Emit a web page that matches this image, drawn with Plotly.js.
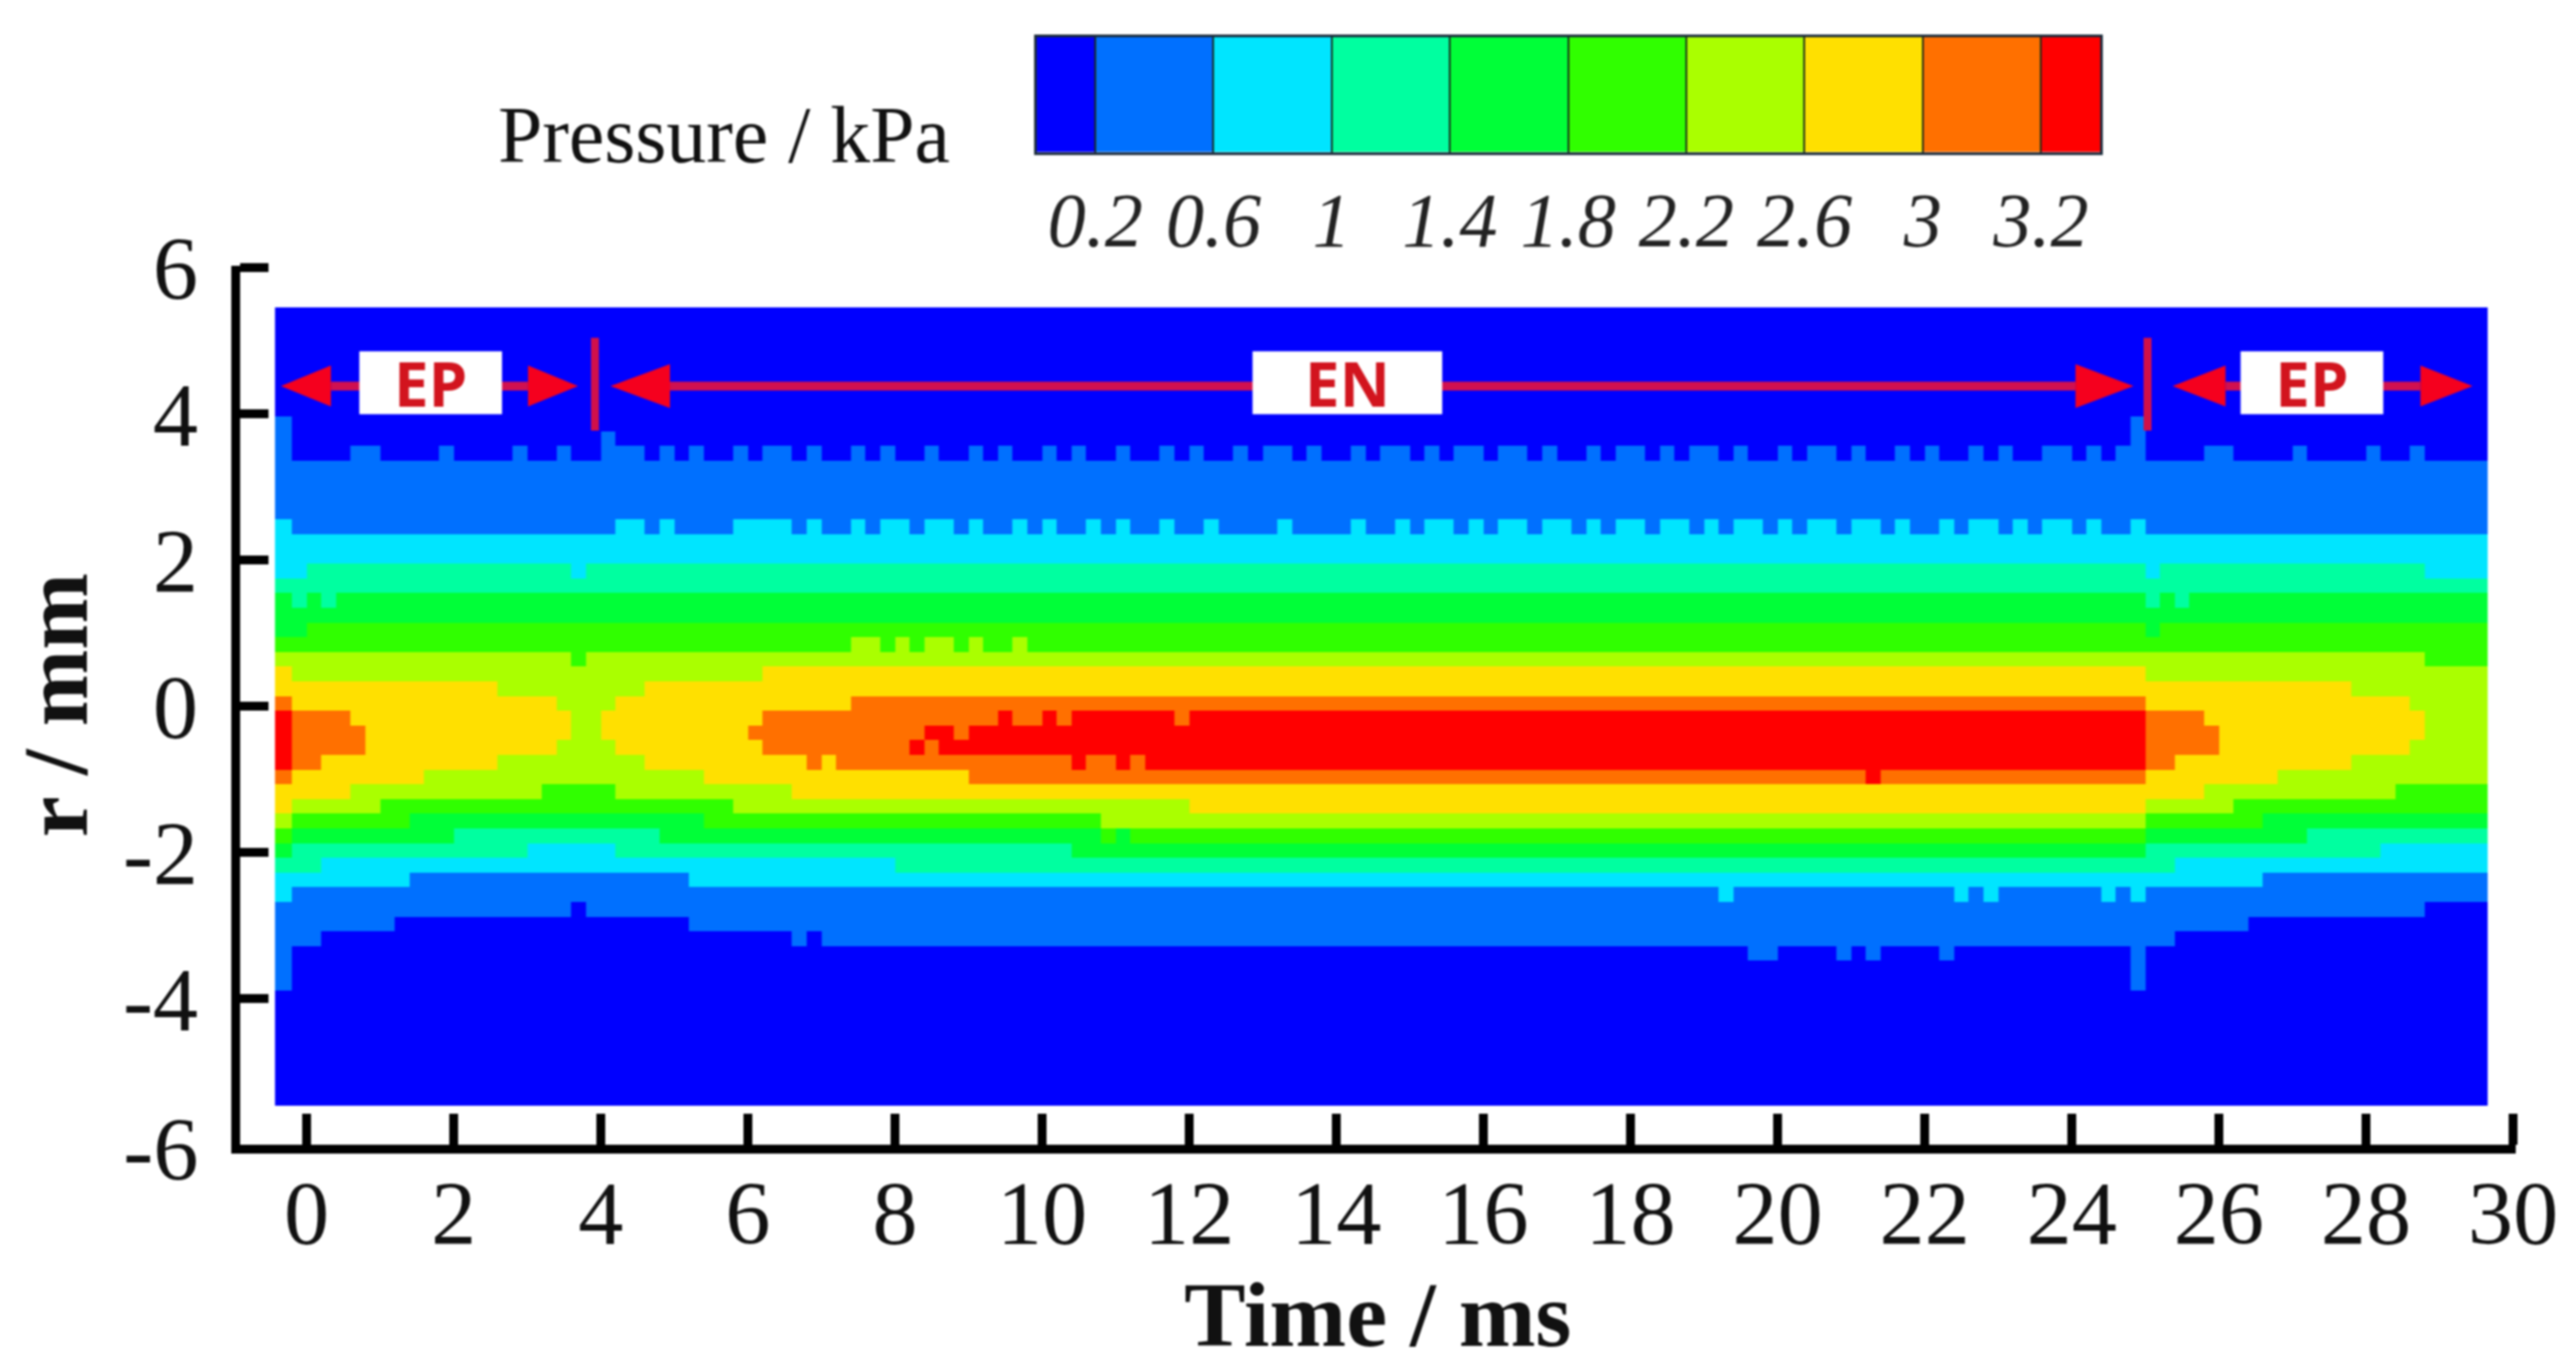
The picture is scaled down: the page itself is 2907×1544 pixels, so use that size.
<!DOCTYPE html>
<html><head><meta charset="utf-8">
<script src="https://cdn.plot.ly/plotly-3.0.1.min.js"></script>
<style>html,body{margin:0;padding:0;background:#fff}#plot{width:2907px;height:1544px;filter:blur(1px)}</style>
</head><body><div id="plot"></div>
<script>
// Pressure bands (kPa): edges, colours and a representative value for each band
const bandEdges = [0, 0.2, 0.6, 1, 1.4, 1.8, 2.2, 2.6, 3, 3.2, 3.4];
const bandColors = ['#0000ff','#0070ff','#00e5ff','#00ffa0','#00ff38','#30ff00','#aaff00','#ffe000','#ff7000','#ff0000'];
const bandValues = [0.1, 0.4, 0.8, 1.2, 1.6, 2.0, 2.4, 2.8, 3.1, 3.3];

// Legend strip
const legendEdges = [0, 0.2, 0.6, 1, 1.4, 1.8, 2.2, 2.6, 3, 3.4, 3.6];
const legendTickVals = [0.2, 0.6, 1, 1.4, 1.8, 2.2, 2.6, 3, 3.4];
const legendTickText = ['0.2','0.6','1','1.4','1.8','2.2','2.6','3','3.2'];

// Axis ticks
const timeTicks = [0,2,4,6,8,10,12,14,16,18,20,22,24,26,28,30];
const radiusTicks = [-4,-2,0,2,4,6];
const radiusTickText = ['-4','-2','0','2','4','6'];

// Time cells are 0.2 ms wide, radius cells about 0.2 mm high
const timeStart = -0.43, timeEnd = 29.66, timeStep = 0.2;
const radiusTop = 5.455, radiusBottom = -5.46, radiusFirst = 3.358, radiusStep = 0.2012;
const blueRowsAbove = 8, blueRowsBelow = 8;

// Each row reads "band:endTime" runs along time (ms); rows go from r = +4 down to r = -4
const bandRuns = [
"1:-0.2 0:24.8 1:25 0:30",
"1:-0.2 0:4 1:4.2 0:24.8 1:25 0:30",
"1:-0.2 0:0.6 1:1 0:1.8 1:2 0:2.8 1:3 0:3.4 1:3.6 0:4 1:4.6 0:4.8 1:5 0:5.2 1:5.4 0:5.8 1:6 0:6.2 1:6.6 0:6.8 1:7 0:7.4 1:7.6 0:7.8 1:8 0:8.4 1:8.6 0:9 1:9.2 0:9.4 1:9.6 0:10 1:10.2 0:10.4 1:10.6 0:11 1:11.2 0:11.6 1:11.8 0:12 1:12.2 0:12.6 1:12.8 0:13 1:13.4 0:13.6 1:13.8 0:14.2 1:14.4 0:14.6 1:15 0:15.2 1:15.4 0:15.6 1:16 0:16.2 1:16.6 0:16.8 1:17 0:17.4 1:17.6 0:17.8 1:18.2 0:18.4 1:18.6 0:18.8 1:19.2 0:19.4 1:19.6 0:20 1:20.2 0:20.4 1:20.8 0:21 1:21.2 0:21.6 1:21.8 0:22 1:22.2 0:22.6 1:22.8 0:23 1:23.2 0:23.6 1:24 0:24.2 1:24.4 0:24.6 1:25 0:25.8 1:26.2 0:27 1:27.2 0:28 1:28.2 0:28.6 1:28.8 0:30",
"1:30",
"1:30",
"1:30",
"1:30",
"2:-0.2 1:4.2 2:4.6 1:4.8 2:5 1:5.8 2:6.6 1:6.8 2:7 1:7.4 2:7.6 1:7.8 2:8.2 1:8.4 2:8.8 1:9 2:9.2 1:9.6 2:9.8 1:10 2:10.2 1:10.6 2:10.8 1:11 2:11.2 1:11.6 2:11.8 1:12.2 2:12.4 1:13.2 2:13.4 1:14.2 2:14.4 1:14.8 2:15 1:15.2 2:15.6 1:15.8 2:16 1:16.2 2:16.6 1:16.8 2:17.2 1:17.4 2:17.6 1:17.8 2:18.2 1:18.4 2:18.8 1:19 2:19.2 1:19.4 2:19.8 1:20 2:20.2 1:20.4 2:20.8 1:21 2:21.4 1:21.6 2:21.8 1:22.2 2:22.4 1:22.6 2:23 1:23.2 2:23.4 1:23.6 2:24 1:24.2 2:24.4 1:24.8 2:25 1:30",
"2:30",
"2:30",
"2:0 3:3.6 2:3.8 3:25 2:25.2 3:28.8 2:30",
"3:30",
"4:-0.2 3:0 4:0.2 3:0.4 4:25 3:25.2 4:25.4 3:25.6 4:30",
"4:30",
"4:0 5:25 4:25.2 5:30",
"5:7.4 6:7.8 5:8 6:8.2 5:8.4 6:8.8 5:9 6:9.2 5:9.6 6:9.8 5:30",
"6:3.6 5:3.8 6:28.8 5:30",
"7:-0.2 6:6.2 7:25 6:30",
"7:2.6 6:4.6 7:27.8 6:30",
"8:-0.2 7:3.4 6:4.2 7:7.4 8:25 7:28.6 6:30",
"9:-0.2 8:0.6 7:3.6 6:4 7:6.2 8:9.4 9:9.6 8:10 9:10.2 8:10.4 9:11.8 8:12 9:25 8:25.8 7:28.8 6:30",
"9:-0.2 8:0.8 7:3.6 6:4 7:6 8:8.4 9:8.8 8:9 9:25 8:26 7:28.8 6:30",
"9:-0.2 8:0.8 7:3.4 6:4.2 7:6.2 8:8.2 9:8.4 8:8.6 9:25 8:26 7:28.6 6:30",
"9:-0.2 8:0.2 7:2.6 6:4.6 7:6.8 8:7 7:7.2 8:10.4 9:10.6 8:11 9:11.2 8:11.4 9:25 8:25.4 7:27.8 6:30",
"8:-0.2 7:1.6 6:5.4 7:9 8:21.2 9:21.4 8:25 7:26.8 6:30",
"7:0.6 6:3.2 5:4.2 6:6.6 7:25.8 6:28.4 5:30",
"7:-0.2 6:1 5:5.8 6:12 7:25 6:26.2 5:30",
"6:-0.2 5:1.4 4:5.4 5:10.8 6:25 5:26.6 4:30",
"5:-0.2 4:2 3:4.8 4:10.8 5:11 4:11.2 5:25 4:27.2 3:30",
"4:-0.2 3:3 2:4.2 3:10.4 4:25 3:28.2 2:30",
"3:0.2 2:8 3:25.4 2:30",
"2:1.4 1:5.2 2:26.6 1:30",
"2:-0.2 1:19.2 2:19.4 1:22.4 2:22.6 1:22.8 2:23 1:24.4 2:24.6 1:24.8 2:25 1:30",
"1:3.6 0:3.8 1:28.8 0:30",
"1:1.2 0:5.2 1:26.4 0:30",
"1:0.2 0:6.6 1:6.8 0:7 1:25.4 0:30",
"1:-0.2 0:19.6 1:20 0:20.8 1:21 0:21.2 1:21.4 0:22.2 1:22.4 0:24.8 1:25 0:30",
"1:-0.2 0:24.8 1:25 0:30",
"1:-0.2 0:24.8 1:25 0:30"
];

// Phase markers
const phaseLabels = ['EP','EN','EP'];
const phaseCentres = [1.69, 14.15, 27.26];
const phaseBoxWidths = [160, 213, 160];
const arrowTips = [[-0.35, 3.69], [4.13, 24.84], [25.37, 29.45]];
const arrowBases = [[0.33, 3.01], [4.94, 24.05], [26.09, 28.74]];
const arrowHalfHeights = [0.28, 0.3, 0.28];
const arrowRadius = 4.38;
const phaseDividers = [3.92, 25.03];
const dividerSpan = [3.77, 5.04];

// Build the grid
const timeEdges = [timeStart];
for (let t = -1; t <= 148; t++) timeEdges.push(+(t * timeStep).toFixed(1));
timeEdges.push(timeEnd);
const radiusEdges = [radiusTop];
for (let k = -10; k <= 43; k++) radiusEdges.push(radiusFirst - radiusStep * k);
radiusEdges.push(radiusBottom);

function rowFromRuns(text) {
  const runs = text.split(' ').map(s => s.split(':').map(Number));
  const row = [];
  for (let j = 0; j < timeEdges.length - 1; j++) {
    const c = (timeEdges[j] + timeEdges[j + 1]) / 2;
    const run = runs.find(r => c < r[1]) || runs[runs.length - 1];
    row.push(bandValues[run[0]]);
  }
  return row;
}
const allRuns = [...Array(blueRowsAbove).fill('0:30'), ...bandRuns, ...Array(blueRowsBelow).fill('0:30')];
const zGrid = allRuns.map(rowFromRuns);

const zTop = bandEdges[bandEdges.length - 1];
const colorscale = [];
bandColors.forEach((c, i) => {
  colorscale.push([bandEdges[i] / zTop, c], [bandEdges[i + 1] / zTop, c]);
});

const W = 2907, H = 1544;
const serif = 'Liberation Serif, Times New Roman, serif';
const shapes = [];
arrowTips.forEach((tip, i) => {
  const h = arrowHalfHeights[i];
  shapes.push({type:'line', xref:'x', yref:'y', x0:arrowBases[i][0], x1:arrowBases[i][1], y0:arrowRadius, y1:arrowRadius,
    line:{color:'#d01050', width:10}});
  [0,1].forEach(s => shapes.push({type:'path', xref:'x', yref:'y', fillcolor:'#f5001e', line:{width:0},
    path:`M ${tip[s]} ${arrowRadius} L ${arrowBases[i][s]} ${arrowRadius + h} L ${arrowBases[i][s]} ${arrowRadius - h} Z`}));
});
phaseDividers.forEach(t => shapes.push({type:'line', xref:'x', yref:'y', x0:t, x1:t, y0:dividerSpan[0], y1:dividerSpan[1],
  line:{color:'#d0104a', width:9}}));

const annotations = phaseLabels.map((txt, i) => ({
  text: txt, x: phaseCentres[i], y: 4.42, xref:'x', yref:'y', showarrow:false,
  width: phaseBoxWidths[i], height: 70, bgcolor:'#ffffff', borderpad:0, align:'center', valign:'middle',
  font:{family:'Open Sans, sans-serif', size:70, color:'#d2141e', weight:700}
}));
annotations.push({text:'Pressure / kPa', xref:'paper', yref:'paper', x:816.5/W, y:1-152/H, showarrow:false,
  xanchor:'center', yanchor:'middle', font:{family:serif, size:90, color:'#111'}});
annotations.push({text:'-6', xref:'paper', yref:'paper', x:226/W, y:1-1297/H, showarrow:false,
  xanchor:'right', yanchor:'middle', font:{family:serif, size:102, color:'#111'}});

const traces = [
  {type:'heatmap', x:timeEdges, y:radiusEdges, z:zGrid, xaxis:'x', yaxis:'y', coloraxis:'coloraxis', hoverinfo:'skip'},
  {type:'heatmap', x:legendEdges, y:[0,1], z:[bandValues], xaxis:'x2', yaxis:'y2', coloraxis:'coloraxis', hoverinfo:'skip'}
];
const layout = {
  width:W, height:H, autosize:false, paper_bgcolor:'#fff', plot_bgcolor:'#fff',
  margin:{l:0,r:0,t:0,b:0}, showlegend:false,
  coloraxis:{cmin:0, cmax:zTop, colorscale:colorscale, showscale:false},
  xaxis:{domain:[271/W, 2838.5/W], range:[-0.904,30.03], anchor:'y', showgrid:false, zeroline:false,
    tickmode:'array', tickvals:timeTicks, ticks:'inside', ticklen:35, tickwidth:10, tickcolor:'#000',
    showline:true, linecolor:'#000', linewidth:10, ticklabelstandoff:-20,
    tickfont:{family:serif, size:102, color:'#111'},
    title:{text:'Time / ms', standoff:18, font:{family:serif, size:104, color:'#111', weight:700}}},
  yaxis:{domain:[1-1292/H, 1-299.5/H], range:[-6,6.03], anchor:'x', showgrid:false, zeroline:false,
    tickmode:'array', tickvals:radiusTicks, ticktext:radiusTickText, ticks:'inside', ticklen:32, tickwidth:10, tickcolor:'#000',
    showline:true, linecolor:'#000', linewidth:10, ticklabelstandoff:17,
    tickfont:{family:serif, size:102, color:'#111'},
    title:{text:'r / mm', standoff:9, font:{family:serif, size:104, color:'#111', weight:700}}},
  xaxis2:{domain:[1170/W, 2370/W], range:[0.002,3.6], anchor:'y2', showgrid:false, zeroline:false,
    tickmode:'array', tickvals:legendTickVals, ticktext:legendTickText, ticks:'inside', ticklen:130, tickwidth:2,
    tickcolor:'#1a2a1a', showline:true, mirror:true, linecolor:'#1a2a3a', linewidth:3, ticklabelstandoff:0,
    tickfont:{family:serif, size:86, color:'#222', style:'italic'}},
  yaxis2:{domain:[1-171.5/H, 1-42/H], range:[0,1], anchor:'x2', showgrid:false, zeroline:false,
    showticklabels:false, ticks:'', showline:true, mirror:true, linecolor:'#1a2a3a', linewidth:3},
  shapes:shapes, annotations:annotations
};
Plotly.newPlot('plot', traces, layout, {staticPlot:true, displayModeBar:false});
</script></body></html>
